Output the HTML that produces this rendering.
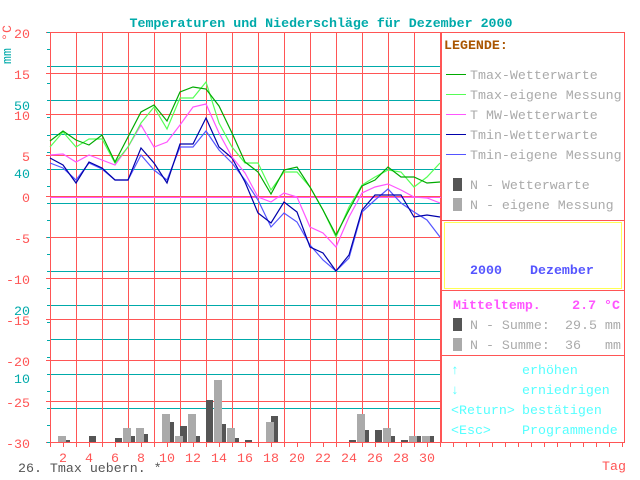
<!DOCTYPE html>
<html><head><meta charset="utf-8"><style>
html,body{margin:0;padding:0;background:#fff;}
svg{display:block;}
text{font-family:"Liberation Mono",monospace;font-size:13.3px;}
</style></head><body>
<svg width="640" height="480" viewBox="0 0 640 480" xmlns="http://www.w3.org/2000/svg" shape-rendering="crispEdges">
<rect width="640" height="480" fill="#fff"/>
<text x="321" y="27" fill="#00aaaa" text-anchor="middle" font-weight="bold">Temperaturen und Niederschläge für Dezember 2000</text>
<g id="grid"></g>
<g id="bars"></g>
<g id="lines" shape-rendering="auto"></g>
<g id="txt"></g>
<!-- right panel -->
<rect x="441.5" y="32.5" width="183" height="410" fill="none" stroke="#ff5555"/>
<line x1="441" y1="220.5" x2="625" y2="220.5" stroke="#ff5555"/>
<line x1="441" y1="290.5" x2="625" y2="290.5" stroke="#ff5555"/>
<line x1="441" y1="355.5" x2="625" y2="355.5" stroke="#ff5555"/>
<rect x="444.5" y="222.5" width="177" height="66" fill="none" stroke="#ffff55"/>
<text x="444" y="49" fill="#aa5500" font-weight="bold">LEGENDE:</text>
<line x1="446" y1="74.5" x2="466" y2="74.5" stroke="#00aa00"/>
<line x1="446" y1="94.5" x2="466" y2="94.5" stroke="#55ff55"/>
<line x1="446" y1="114.5" x2="466" y2="114.5" stroke="#ff55ff"/>
<line x1="446" y1="134.5" x2="466" y2="134.5" stroke="#0000aa"/>
<line x1="446" y1="154.5" x2="466" y2="154.5" stroke="#5555ff"/>
<g fill="#aaaaaa">
<text x="470" y="79">Tmax-Wetterwarte</text>
<text x="470" y="99">Tmax-eigene Messung</text>
<text x="470" y="119">T MW-Wetterwarte</text>
<text x="470" y="139">Tmin-Wetterwarte</text>
<text x="470" y="159">Tmin-eigene Messung</text>
<text x="470" y="189">N - Wetterwarte</text>
<text x="470" y="209">N - eigene Messung</text>
<text x="470" y="329">N - Summe:</text><text x="565" y="329">29.5 mm</text>
<text x="470" y="349">N - Summe:</text><text x="565" y="349">36</text><text x="605" y="349">mm</text>
</g>
<rect x="453" y="178" width="9" height="13" fill="#555555"/>
<rect x="453" y="198" width="9" height="13" fill="#aaaaaa"/>
<rect x="453" y="318" width="9" height="13" fill="#555555"/>
<rect x="453" y="338" width="9" height="13" fill="#aaaaaa"/>
<text x="470" y="274" fill="#5555ff" font-weight="bold">2000</text>
<text x="530" y="274" fill="#5555ff" font-weight="bold">Dezember</text>
<text x="453" y="309" fill="#ff55ff" font-weight="bold">Mitteltemp.</text>
<text x="620" y="309" fill="#ff55ff" font-weight="bold" text-anchor="end">2.7 °C</text>
<g fill="#55ffff">
<text x="451" y="374">↑</text><text x="522" y="374">erhöhen</text>
<text x="451" y="394">↓</text><text x="522" y="394">erniedrigen</text>
<text x="451" y="414">&lt;Return&gt;</text><text x="522" y="414">bestätigen</text>
<text x="451" y="434">&lt;Esc&gt;</text><text x="522" y="434">Programmende</text>
</g>
<text x="18" y="472" fill="#555555">26. Tmax uebern. *</text>
<text x="602" y="470" fill="#ff5555">Tag</text>
<text x="11" y="64" fill="#00aaaa" font-size="11" transform="rotate(-90 11 64)">mm</text>
<text x="11" y="41" fill="#ff5555" font-size="11" transform="rotate(-90 11 41)">°C</text>
<script>
const NS="http://www.w3.org/2000/svg";
function el(p,t,a,txt){const e=document.createElementNS(NS,t);for(const k in a)e.setAttribute(k,a[k]);if(txt!=null)e.textContent=txt;document.getElementById(p).appendChild(e);return e;}
for(let k=1;k<=12;k++){const y=Math.round(442-34.17*k)+0.5;el('grid','line',{x1:50,x2:441,y1:y,y2:y,stroke:'#00aaaa'});}
for(let k=0;k<=10;k++){const y=32+41*k+0.5;el('grid','line',{x1:46,x2:441,y1:y,y2:y,stroke:'#ff5555'});}
for(let k=0;k<=24;k++){const y=Math.round(442-17.08*k)+0.5;el('grid','line',{x1:47,x2:50,y1:y,y2:y,stroke:'#00aaaa'});}
for(let d=1;d<=31;d+=2){const x=50+13*(d-1)+0.5;el('grid','line',{x1:x,x2:x,y1:32,y2:447,stroke:'#ff5555'});}
for(let x=50;x<=622;x+=13){el('grid','line',{x1:x+0.5,x2:x+0.5,y1:442,y2:447,stroke:'#ff5555'});}
el('grid','line',{x1:50,x2:625,y1:442.5,y2:442.5,stroke:'#ff5555'});
el('grid','line',{x1:50,x2:441,y1:197.5,y2:197.5,stroke:'#ff55ff'});
for(let d=2;d<=30;d+=2){el('txt','text',{x:50+13*(d-1),y:462,fill:'#ff5555','text-anchor':'middle'},String(d));}
const tl=[20,15,10,5,0,-5,-10,-15,-20,-25,-30];
tl.forEach((v,i)=>el('txt','text',{x:30,y:32+41*i+6,fill:'#ff5555','text-anchor':'end'},String(v)));
[[50,110],[40,178],[20,315],[10,383]].forEach(a=>el('txt','text',{x:30,y:a[1],fill:'#00aaaa','text-anchor':'end'},String(a[0])));
const B=[[2,6,2],[4,0,6],[6,0,4],[7,14,6],[8,14,8],[10,28,20],[11,6,16],[12,28,6],[13,0,42],[14,62,18],[15,14,4],[16,0,2],[18,20,26],[24,0,2],[25,28,12],[26,0,12],[27,14,6],[28,0,2],[29,6,6],[30,6,6]];
B.forEach(b=>{const c=50+13*(b[0]-1);if(b[2])el('bars','rect',{x:c,y:442-b[2],width:7,height:b[2],fill:'#555555'});if(b[1])el('bars','rect',{x:c-5,y:442-b[1],width:8,height:b[1],fill:'#aaaaaa'});});
const S=[
['#5555ff',[163,168,180,163,169,180,180,155,170,180,147,147,131,150,163,180,200,227,213,222,245,260,271,258,212,200,189,203,212,220,237]],
['#0000aa',[158,165,183,162,168,180,180,148,163,183,144,144,118,147,158,182,213,223,202,212,247,253,271,255,210,195,195,195,217,215,217]],
['#ff55ff',[155,154,162,155,160,165,147,125,147,142,125,107,104,133,157,173,197,202,193,197,227,233,247,217,193,187,184,190,197,198,203]],
['#55ff55',[147,132,147,139,139,163,147,123,107,129,98,98,82,123,147,163,163,190,172,172,187,210,237,207,185,177,170,172,187,177,163]],
['#00aa00',[141,131,140,145,135,162,137,112,105,121,92,87,89,106,133,162,172,194,170,167,187,210,235,210,186,180,167,177,177,183,182]]];
S.forEach(s=>{const pts=s[1].map((y,i)=>(50+13*i)+','+y).join(' ');el('lines','polyline',{points:pts,fill:'none',stroke:s[0],'stroke-width':1.2});});
</script>
</svg>
</body></html>
